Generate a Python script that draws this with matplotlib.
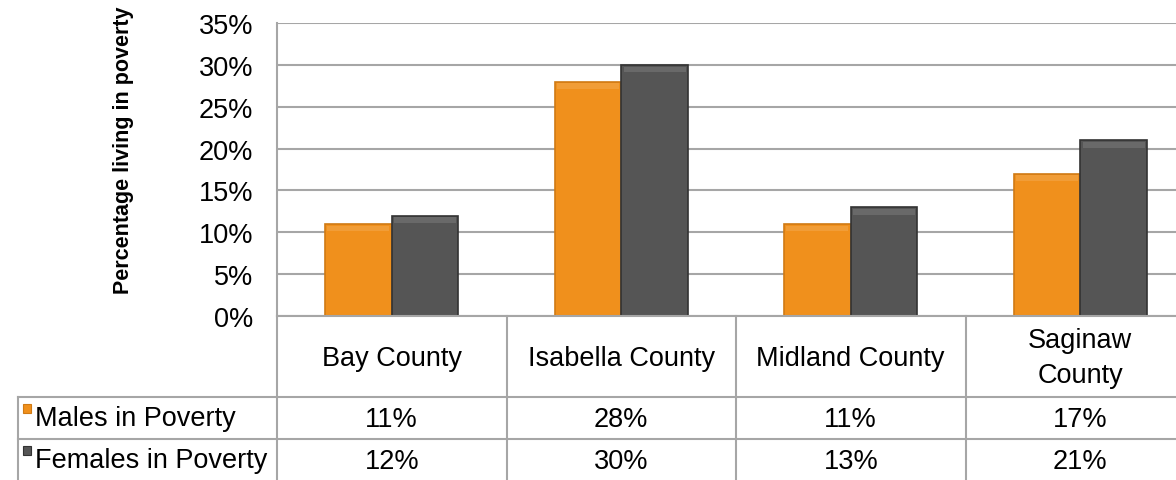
import numpy as np
import matplotlib.pyplot as plt
from matplotlib.lines import Line2D
from matplotlib.patches import Rectangle

plt.rcParams['font.family'] = ['Liberation Sans', 'DejaVu Sans']

counties = ["Bay County", "Isabella County", "Midland County", "Saginaw\nCounty"]
series = ["Males in Poverty", "Females in Poverty"]
males = [11, 28, 11, 17]
females = [12, 30, 13, 21]
colors = ['#f0901c', '#555555']
edges = ['#d07a14', '#333333']
grid_c = '#a6a6a6'

W, H = 1176, 481
fig = plt.figure(figsize=(W / 100, H / 100), dpi=100)
fs = 19.5

# plot area in pixels
x0, x1 = 277, 1176
y_top, y_zero = 24, 317
cat_w = 229.5
ax = fig.add_axes([x0 / W, 1 - y_zero / H, (x1 - x0) / W, (y_zero - y_top) / H])
ax.set_xlim(-0.5, -0.5 + (x1 - x0) / cat_w)
ax.set_ylim(0, 35)

x = np.arange(len(counties))
bw = 0.29
for vals, c, e, off in [(males, colors[0], edges[0], -bw / 2), (females, colors[1], edges[1], bw / 2)]:
    ax.bar(x + off, vals, bw, color=c, edgecolor=e, linewidth=1.2, zorder=3)
    # light bevel strip at the top of each bar
    for xi, v in zip(x, vals):
        ax.add_patch(Rectangle((xi + off - bw / 2 + 0.01, v - 0.9), bw - 0.02, 0.7,
                               color='white', alpha=0.12, lw=0, zorder=4))

ax.set_yticks(range(0, 36, 5))
ax.set_yticklabels([f"{t}%" for t in range(0, 36, 5)], fontsize=fs)
ax.tick_params(axis='y', length=0, pad=17)
ax.set_xticks([])
ax.grid(axis='y', color=grid_c, linewidth=1.5, zorder=0)
for s in ['top', 'right', 'bottom']:
    ax.spines[s].set_visible(False)
ax.spines['left'].set_color(grid_c)
ax.spines['left'].set_linewidth(1.5)

fig.text(124 / W, 1 - 150 / H, "Percentage living in poverty", rotation=90,
         fontsize=15.5, fontweight='bold', ha='center', va='center')

# data table below the plot
def fx(px):
    return px / W

def fy(py):
    return 1 - py / H

bounds = [x0 + i * cat_w for i in range(len(counties) + 1)]
lk = dict(color=grid_c, linewidth=1.5, transform=fig.transFigure)
# horizontal lines
fig.add_artist(Line2D([fx(x0), 1], [fy(317), fy(317)], **lk))
fig.add_artist(Line2D([fx(18), 1], [fy(398), fy(398)], **lk))
fig.add_artist(Line2D([fx(18), 1], [fy(440), fy(440)], **lk))
# vertical lines
fig.add_artist(Line2D([fx(18), fx(18)], [fy(398), fy(481)], **lk))
for b in bounds[:-1]:
    fig.add_artist(Line2D([fx(b), fx(b)], [fy(317), fy(481)], **lk))

for i, name in enumerate(counties):
    cx = fx(bounds[i] + cat_w / 2)
    fig.text(cx, fy(359), name, ha='center', va='center', fontsize=fs, linespacing=1.45)
    fig.text(cx, fy(420), f"{males[i]}%", ha='center', va='center', fontsize=fs)
    fig.text(cx, fy(462), f"{females[i]}%", ha='center', va='center', fontsize=fs)

for j, (name, c, e) in enumerate(zip(series, colors, edges)):
    ytop = 405 + j * 42
    fig.add_artist(Rectangle((fx(23), fy(ytop + 9)), 8 / W, 9 / H, facecolor=c, edgecolor=e,
                             linewidth=0.8, transform=fig.transFigure))
    fig.text(fx(35), fy(ytop + 14), name, ha='left', va='center', fontsize=fs)

fig.savefig("out.png", dpi=100)
